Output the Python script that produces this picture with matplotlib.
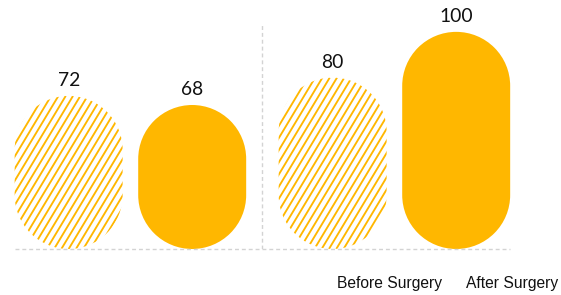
import numpy as np
import matplotlib
matplotlib.use("Agg")
import matplotlib.pyplot as plt
from matplotlib.path import Path
from matplotlib.patches import PathPatch
from matplotlib.collections import LineCollection

# data
groups = ["Group A", "Group B"]
series = ["Before Surgery", "After Surgery"]
before = [72, 80]
after = [68, 100]

yellow = "#FFB700"
grey = "#D3D3D3"
DPI = 84


def pill_path(x0, y0, w, h, ry):
    # rounded "pill" outline, radius given in data units for x and y
    rx = w / 2
    cx = x0 + rx
    bot = Path.arc(180, 360)
    top = Path.arc(0, 180)
    vb = bot.vertices * [rx, ry] + [cx, y0 + ry]
    vt = top.vertices * [rx, ry] + [cx, y0 + h - ry]
    codes_t = top.codes.copy()
    codes_t[0] = Path.LINETO
    verts = np.concatenate([vb, vt, vb[:1]])
    codes = np.concatenate([bot.codes, codes_t, [Path.CLOSEPOLY]])
    return Path(verts, codes)


def hatch_lines(ax, patch, bbox_px, spacing=7.3, angle=59):
    # slanted stripes, generated in pixel space, clipped to the pill
    x0, y0, x1, y1 = bbox_px
    h = y1 - y0
    dx = h / np.tan(np.radians(angle))
    segs = []
    xs = np.arange(x0 - dx - spacing, x1 + spacing, spacing)
    inv = ax.transData.inverted()
    for xs0 in xs:
        p = inv.transform([[xs0, y0], [xs0 + dx, y1]])
        segs.append(p)
    lc = LineCollection(segs, colors=yellow, linewidths=1.6)
    ax.add_collection(lc)
    lc.set_clip_path(patch)


fig = plt.figure(figsize=(561 / DPI, 295 / DPI), dpi=DPI)
ax = fig.add_axes([0, 46 / 295, 1, 224 / 295])
ax.set_xlim(-0.494, 1.631)
ax.set_ylim(5, 103)
ax.axis("off")

x = np.arange(len(groups))
width = 0.409
offset = 0.234

b1 = ax.bar(x - offset, np.array(before) - 5, bottom=5, width=width)
b2 = ax.bar(x + offset, np.array(after) - 5, bottom=5, width=width)

# pixel scale, to make the end caps real half circles
p0, p1 = ax.transData.transform([[0, 0], [1, 1]])
px_x = p1[0] - p0[0]
px_y = p1[1] - p0[1]

for bars, vals, hatched in [(b1, before, True), (b2, after, False)]:
    for rect, v in zip(bars, vals):
        rect.set_visible(False)
        rx0, ry0 = rect.get_x(), rect.get_y()
        w, h = rect.get_width(), rect.get_height()
        ry = (w / 2) * px_x / px_y
        path = pill_path(rx0, ry0, w, h, ry)
        if hatched:
            patch = PathPatch(path, facecolor="none", edgecolor="none", lw=0)
            ax.add_patch(patch)
            bb = ax.transData.transform([[rx0, ry0], [rx0 + w, ry0 + h]])
            hatch_lines(ax, patch, (bb[0][0], bb[0][1], bb[1][0], bb[1][1]))
        else:
            ax.add_patch(PathPatch(path, facecolor=yellow, edgecolor="none", lw=0))
        ax.annotate(str(v), (rect.get_x() + w / 2, v), xytext=(0, 8.5),
                    textcoords="offset points", ha="center", va="baseline",
                    fontsize=16.5, family="Lato", color="#111111")

# separators
ax.axvline(0.5, color=grey, lw=1.2, ls=(0, (2.8, 2.1)))
left = b1[0].get_x()
right = b2[-1].get_x() + width
ax.hlines(5, left, right, color=grey, lw=1.2, ls=(0, (2.8, 2.1)), clip_on=False)

# series labels at the bottom
for name, xp in zip(series, [337 / 561, 466 / 561]):
    fig.text(xp, 7 / 295, name, ha="left", va="baseline",
             fontsize=13.4, family="Liberation Sans", color="#111111")

fig.savefig("out.png", dpi=DPI)
